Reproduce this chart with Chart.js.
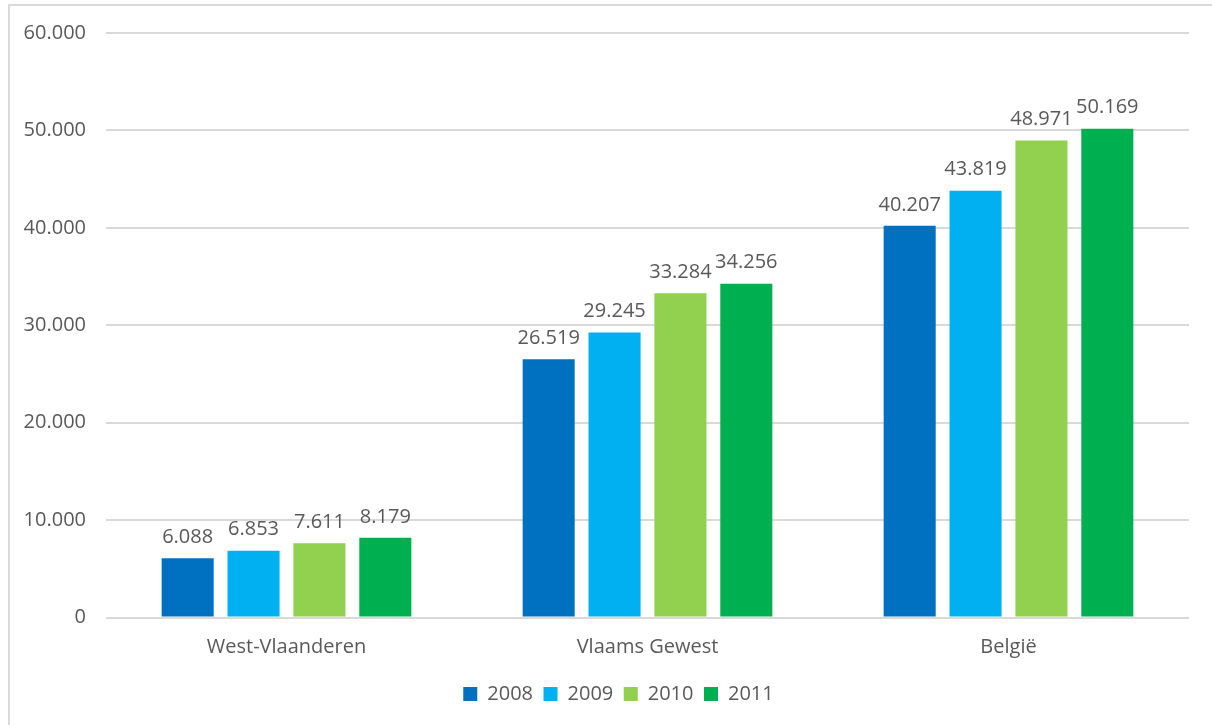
<!DOCTYPE html>
<html>
<head>
<meta charset="utf-8">
<script src="https://cdn.jsdelivr.net/npm/chart.js@4"></script>
<style>
  html, body { margin: 0; padding: 0; background: #fff; }
  #wrap {
    position: absolute;
    left: 8px;
    top: 4px;
    width: 1202px;
    height: 719px;
    border-left: 2px solid #d9d9d9;
    border-top: 2px solid #d9d9d9;
  }
  canvas { display: block; }
</style>
</head>
<body>
<div id="wrap"><canvas id="chart-jaren" width="1202" height="719"></canvas></div>
<script>
const colors = {
  blue: "#0070C0",
  lightBlue: "#00B0F0",
  lightGreen: "#92D050",
  green: "#00B050",
  text: "#595959",
  grid: "#d9d9d9",
};

const regios = ["West-Vlaanderen", "Vlaams Gewest", "België"];
const jaren = ["2008", "2009", "2010", "2011"];

const waarden2008 = [6088, 26519, 40207];
const waarden2009 = [6853, 29245, 43819];
const waarden2010 = [7611, 33284, 48971];
const waarden2011 = [8179, 34256, 50169];

const yTicks = [0, 10000, 20000, 30000, 40000, 50000, 60000];

const font = "'Open Sans', 'Liberation Sans', sans-serif";

function formatGetal(v) {
  return String(v).replace(/\B(?=(\d{3})+(?!\d))/g, ".");
}

// labels boven elke staaf
const waardeLabels = {
  id: "waardeLabels",
  afterDatasetsDraw(chart) {
    const ctx = chart.ctx;
    ctx.save();
    ctx.font = "20px " + font;
    ctx.fillStyle = colors.text;
    ctx.textAlign = "center";
    ctx.textBaseline = "bottom";
    chart.data.datasets.forEach((ds, i) => {
      chart.getDatasetMeta(i).data.forEach((bar, j) => {
        ctx.fillText(formatGetal(ds.data[j]), bar.x, bar.y - 11);
      });
    });
    ctx.restore();
  },
};

// legenda iets naar rechts schuiven
const legendaVerschuiving = {
  id: "legendaVerschuiving",
  afterLayout(chart) {
    chart.legend.left += 19;
    chart.legend.right += 19;
  },
};

function renderChartJaren() {
  const reeksen = [waarden2008, waarden2009, waarden2010, waarden2011];
  const kleuren = [colors.blue, colors.lightBlue, colors.lightGreen, colors.green];

  const chartData = jaren.map((jaar, i) => ({
    label: jaar,
    backgroundColor: kleuren[i],
    borderWidth: 0,
    data: reeksen[i],
    barPercentage: 0.79,
    categoryPercentage: 0.73,
  }));

  const config = {
    type: "bar",
    data: {
      labels: regios,
      datasets: chartData,
    },
    plugins: [waardeLabels, legendaVerschuiving],
    options: {
      responsive: false,
      animation: false,
      layout: {
        padding: { left: 0, right: 23, top: 27, bottom: 11 },
      },
      plugins: {
        legend: {
          position: "bottom",
          labels: {
            boxWidth: 14,
            boxHeight: 14,
            padding: 10.5,
            color: colors.text,
            font: { family: font, size: 20 },
          },
        },
        tooltip: { enabled: false },
      },
      scales: {
        x: {
          afterFit(axis) {
            axis.height += 4;
          },
          grid: { display: false },
          border: { display: false },
          ticks: {
            color: colors.text,
            font: { family: font, size: 20 },
            padding: 10,
          },
        },
        y: {
          min: 0,
          max: 60000,
          afterBuildTicks(axis) {
            axis.ticks = yTicks.map((v) => ({ value: v }));
          },
          afterFit(axis) {
            axis.width = 96;
          },
          grid: {
            color: colors.grid,
            lineWidth: 2,
            drawTicks: true,
            tickLength: 20,
            tickColor: "rgba(0,0,0,0)",
          },
          border: { display: false },
          ticks: {
            color: colors.text,
            font: { family: font, size: 20 },
            padding: 0,
            callback: (v) => formatGetal(v),
          },
        },
      },
    },
  };

  const myChart = new Chart(document.getElementById("chart-jaren"), config);
}

renderChartJaren();
</script>
</body>
</html>
